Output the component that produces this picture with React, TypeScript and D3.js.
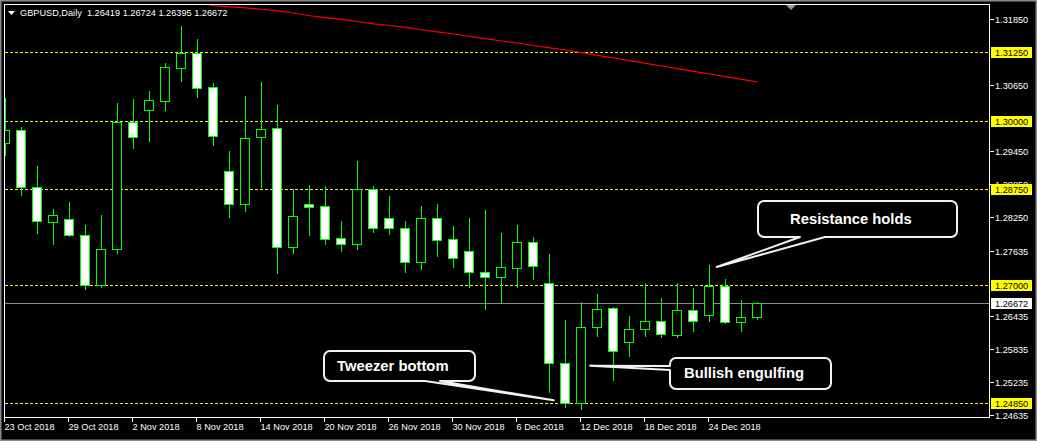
import React, { useEffect, useRef } from 'react';
import * as d3 from 'd3';

const symbol = 'GBPUSD,Daily';

const dates = [
  '23 Oct 2018', '24 Oct 2018', '25 Oct 2018', '26 Oct 2018',
  '29 Oct 2018', '30 Oct 2018', '31 Oct 2018', '1 Nov 2018',
  '2 Nov 2018', '5 Nov 2018', '6 Nov 2018', '7 Nov 2018',
  '8 Nov 2018', '9 Nov 2018', '12 Nov 2018', '13 Nov 2018',
  '14 Nov 2018', '15 Nov 2018', '16 Nov 2018', '19 Nov 2018',
  '20 Nov 2018', '21 Nov 2018', '22 Nov 2018', '23 Nov 2018',
  '26 Nov 2018', '27 Nov 2018', '28 Nov 2018', '29 Nov 2018',
  '30 Nov 2018', '3 Dec 2018', '4 Dec 2018', '5 Dec 2018',
  '6 Dec 2018', '7 Dec 2018', '10 Dec 2018', '11 Dec 2018',
  '12 Dec 2018', '13 Dec 2018', '14 Dec 2018', '17 Dec 2018',
  '18 Dec 2018', '19 Dec 2018', '20 Dec 2018', '21 Dec 2018',
  '24 Dec 2018', '26 Dec 2018', '27 Dec 2018', '28 Dec 2018',
];

const open = [
  1.29591, 1.29828, 1.28789, 1.28150, 1.28205, 1.27913, 1.27002, 1.27658,
  1.29973, 1.30203, 1.30368, 1.30969, 1.31232, 1.30612, 1.29080, 1.28478,
  1.29700, 1.29865, 1.27694, 1.28484, 1.28442, 1.27859, 1.27749, 1.28752,
  1.28223, 1.28040, 1.27431, 1.28223, 1.27840, 1.27621, 1.27239, 1.27148,
  1.27312, 1.27786, 1.27038, 1.25579, 1.24850, 1.26235, 1.26582, 1.25972,
  1.26198, 1.26344, 1.26089, 1.26545, 1.26454, 1.26983, 1.26326, 1.26419,
];
const high = [
  1.30435, 1.29906, 1.29195, 1.28411, 1.28539, 1.28119, 1.28301, 1.30344,
  1.30417, 1.30563, 1.31073, 1.31748, 1.31511, 1.30709, 1.29469, 1.30466,
  1.30727, 1.30302, 1.28770, 1.28849, 1.28831, 1.28192, 1.29286, 1.28831,
  1.28648, 1.28192, 1.28466, 1.28502, 1.28100, 1.28246, 1.28393, 1.27974,
  1.28119, 1.27901, 1.27590, 1.26386, 1.26715, 1.26861, 1.26624, 1.26459,
  1.27062, 1.26788, 1.27062, 1.26971, 1.27390, 1.27135, 1.26752, 1.26724,
];
const low = [
  1.29372, 1.28654, 1.27961, 1.27760, 1.27901, 1.26940, 1.26976, 1.27596,
  1.29511, 1.29638, 1.30203, 1.30732, 1.30435, 1.29560, 1.28252, 1.28361,
  1.28800, 1.27232, 1.27585, 1.27924, 1.27760, 1.27632, 1.27658, 1.27979,
  1.27943, 1.27250, 1.27305, 1.27541, 1.27341, 1.26976, 1.26575, 1.26702,
  1.26976, 1.27111, 1.25060, 1.24787, 1.24751, 1.26082, 1.25274, 1.25718,
  1.26082, 1.26063, 1.26063, 1.26173, 1.26344, 1.26308, 1.26162, 1.26395,
];
const close = [
  1.29828, 1.28789, 1.28168, 1.28277, 1.27913, 1.27002, 1.27658, 1.29973,
  1.29700, 1.30380, 1.30976, 1.31232, 1.30605, 1.29730, 1.28478, 1.29688,
  1.29846, 1.27694, 1.28259, 1.28434, 1.27851, 1.27749, 1.28752, 1.28051,
  1.28040, 1.27431, 1.28223, 1.27822, 1.27494, 1.27239, 1.27148, 1.27336,
  1.27786, 1.27348, 1.25579, 1.24850, 1.26235, 1.26564, 1.25798, 1.26198,
  1.26344, 1.26107, 1.26545, 1.26344, 1.26994, 1.26326, 1.26425, 1.26672,
];

// moving average, starts at candle 11 (earlier values are above the window)
const maStart = 11;
const maValues = [
  1.32230, 1.32170, 1.32100, 1.32078, 1.32059, 1.32035, 1.32004, 1.31967,
  1.31916, 1.31882, 1.31849, 1.31812, 1.31770, 1.31739, 1.31703, 1.31661,
  1.31621, 1.31584, 1.31538, 1.31498, 1.31456, 1.31420, 1.31374, 1.31332,
  1.31292, 1.31243, 1.31195, 1.31146, 1.31097, 1.31049, 1.31000, 1.30951,
  1.30903, 1.30854, 1.30805, 1.30757, 1.30708,
];

const levels = [1.3125, 1.3, 1.2875, 1.27, 1.2485];
const priceTicks = [1.3185, 1.3065, 1.2945, 1.2885, 1.2825, 1.27635, 1.26435, 1.25835, 1.25235, 1.24635];

const W = 1037;
const H = 441;
const left = 4.5;
const right = 989.5;
const top = 4.5;
const bottom = 417.5;
const font = '"Liberation Sans", Arial, sans-serif';

export default function App() {
  const ref = useRef<SVGSVGElement>(null);

  useEffect(() => {
    const svg = d3.select(ref.current);
    svg.selectAll('*').remove();

    const x = d3.scaleLinear().domain([0, 47]).range([5.7, 757.7]);
    const y = d3.scaleLinear().domain([1.3125, 1.2485]).range([52.3, 403.3]);
    const px = (i: number) => Math.floor(x(i)) + 0.5;
    const py = (p: number) => Math.round(y(p)) + 0.5;

    svg.append('rect').attr('width', W).attr('height', H).attr('fill', '#000');
    svg.append('rect')
      .attr('x', 0.5).attr('y', 0.5).attr('width', W - 1).attr('height', H - 1)
      .attr('fill', 'none').attr('stroke', '#8a8a8a').attr('stroke-width', 2);

    svg.append('clipPath').attr('id', 'plot')
      .append('rect').attr('x', left + 0.5).attr('y', top + 0.5)
      .attr('width', right - left - 1).attr('height', bottom - top - 1);

    const plot = svg.append('g').attr('clip-path', 'url(#plot)');

    // support / resistance levels
    plot.selectAll('line.level')
      .data(levels)
      .enter()
      .append('line')
      .attr('x1', left).attr('x2', right)
      .attr('y1', d => py(d)).attr('y2', d => py(d))
      .attr('stroke', '#ffff00')
      .attr('stroke-dasharray', '3,2')
      .attr('shape-rendering', 'crispEdges');

    // bid line
    const last = close[close.length - 1];
    plot.append('line')
      .attr('x1', left).attr('x2', right)
      .attr('y1', py(last)).attr('y2', py(last))
      .attr('stroke', '#8c8c8c')
      .attr('shape-rendering', 'crispEdges');

    // moving average
    const line = d3.line<number>()
      .x((d, i) => x(i + maStart))
      .y(d => y(d));
    plot.append('path')
      .datum(maValues)
      .attr('d', line)
      .attr('fill', 'none')
      .attr('stroke', '#ff0000')
      .attr('stroke-width', 1.2);

    // candles
    const idx = d3.range(close.length);
    const candles = plot.selectAll('g.candle')
      .data(idx)
      .enter()
      .append('g')
      .attr('shape-rendering', 'crispEdges');

    candles.append('line')
      .attr('x1', i => px(i)).attr('x2', i => px(i))
      .attr('y1', i => py(high[i])).attr('y2', i => py(low[i]))
      .attr('stroke', '#00ff00');

    candles.append('rect')
      .attr('x', i => px(i) - 5)
      .attr('width', 9)
      .attr('y', i => py(Math.max(open[i], close[i])))
      .attr('height', i => Math.max(1, py(Math.min(open[i], close[i])) - py(Math.max(open[i], close[i]))))
      .attr('fill', i => (close[i] >= open[i] ? '#000' : '#fff'))
      .attr('stroke', '#00ff00');

    // plot frame
    svg.append('rect')
      .attr('x', left).attr('y', top)
      .attr('width', right - left).attr('height', bottom - top)
      .attr('fill', 'none').attr('stroke', '#fff')
      .attr('shape-rendering', 'crispEdges');

    // shift marker
    svg.append('path')
      .attr('d', 'M786,5 L796,5 L791,10 Z')
      .attr('fill', '#9a9a9a');

    // price axis
    const axisG = svg.append('g').attr('font-family', font).attr('font-size', 9.2);
    axisG.selectAll('g.tick')
      .data(priceTicks)
      .enter()
      .append('g')
      .each(function (d) {
        const g = d3.select(this);
        g.append('line')
          .attr('x1', right).attr('x2', right + 4)
          .attr('y1', py(d)).attr('y2', py(d))
          .attr('stroke', '#fff').attr('shape-rendering', 'crispEdges');
        g.append('text')
          .attr('x', 995).attr('y', py(d)).attr('dy', '0.35em')
          .attr('fill', '#fff').text(d.toFixed(5));
      });

    const boxed = [...levels.map(v => ({ v, bg: '#ffff00' })), { v: last, bg: '#ffffff' }];
    axisG.selectAll('g.boxed')
      .data(boxed)
      .enter()
      .append('g')
      .each(function (d) {
        const g = d3.select(this);
        g.append('rect')
          .attr('x', 991).attr('y', Math.round(y(d.v)) - 5)
          .attr('width', 41).attr('height', 11)
          .attr('fill', d.bg);
        g.append('text')
          .attr('x', 995).attr('y', py(d.v)).attr('dy', '0.35em')
          .attr('fill', '#000').text(d.v.toFixed(5));
      });

    // time axis
    const dateIdx = idx.filter(i => i % 4 === 0);
    const timeG = svg.append('g').attr('font-family', font).attr('font-size', 9.2);
    timeG.selectAll('g')
      .data(dateIdx)
      .enter()
      .append('g')
      .each(function (i) {
        const g = d3.select(this);
        const tx = Math.floor(x(i)) - 0.5;
        g.append('line')
          .attr('x1', tx).attr('x2', tx)
          .attr('y1', bottom).attr('y2', bottom + 4)
          .attr('stroke', '#fff').attr('shape-rendering', 'crispEdges');
        g.append('text')
          .attr('x', tx).attr('y', 430)
          .attr('fill', '#fff').text(dates[i]);
      });

    // header
    svg.append('path').attr('d', 'M8,11 L15,11 L11.5,15 Z').attr('fill', '#fff');
    svg.append('text')
      .attr('x', 20).attr('y', 16)
      .attr('font-family', font).attr('font-size', 9.2)
      .attr('fill', '#fff')
      .attr('xml:space', 'preserve')
      .text(`${symbol}  ${open[47].toFixed(5)} ${high[47].toFixed(5)} ${low[47].toFixed(5)} ${close[47].toFixed(5)}`);

    // callouts
    const callout = (
      text: string, bx0: number, by0: number, bx1: number, by1: number,
      side: 'bottom' | 'left', a: number, b: number, tx: number, ty: number, textX: number, textY: number,
    ) => {
      const r = 6;
      const p = d3.path();
      p.moveTo(bx0 + r, by0);
      p.lineTo(bx1 - r, by0);
      p.arcTo(bx1, by0, bx1, by0 + r, r);
      p.lineTo(bx1, by1 - r);
      p.arcTo(bx1, by1, bx1 - r, by1, r);
      if (side === 'bottom') {
        p.lineTo(b, by1);
        p.lineTo(tx, ty);
        p.lineTo(a, by1);
      }
      p.lineTo(bx0 + r, by1);
      p.arcTo(bx0, by1, bx0, by1 - r, r);
      if (side === 'left') {
        p.lineTo(bx0, b);
        p.lineTo(tx, ty);
        p.lineTo(bx0, a);
      }
      p.lineTo(bx0, by0 + r);
      p.arcTo(bx0, by0, bx0 + r, by0, r);
      p.closePath();
      svg.append('path')
        .attr('d', p.toString())
        .attr('fill', '#000')
        .attr('stroke', '#f2f2f2')
        .attr('stroke-width', 2)
        .attr('stroke-linejoin', 'round');
      svg.append('text')
        .attr('x', textX).attr('y', textY)
        .attr('font-family', font).attr('font-weight', 'bold').attr('font-size', 14.8)
        .attr('fill', '#fff').text(text);
    };

    callout('Resistance holds', 758, 201, 957, 237, 'bottom', 800, 825, x(44) + 7, y(1.27335), 790, 223.5);
    callout('Tweezer bottom', 324, 351, 475, 381, 'bottom', 425, 440, x(35) - 12, y(1.24904), 337, 371);
    callout('Bullish engulfing', 670, 358, 831, 389, 'left', 366, 370, x(36) + 8.5, y(1.25535), 684, 377.5);
  }, []);

  return (
    <svg
      ref={ref}
      width={W}
      height={H}
      style={{ position: 'absolute', left: 0, top: 0, display: 'block' }}
    />
  );
}
